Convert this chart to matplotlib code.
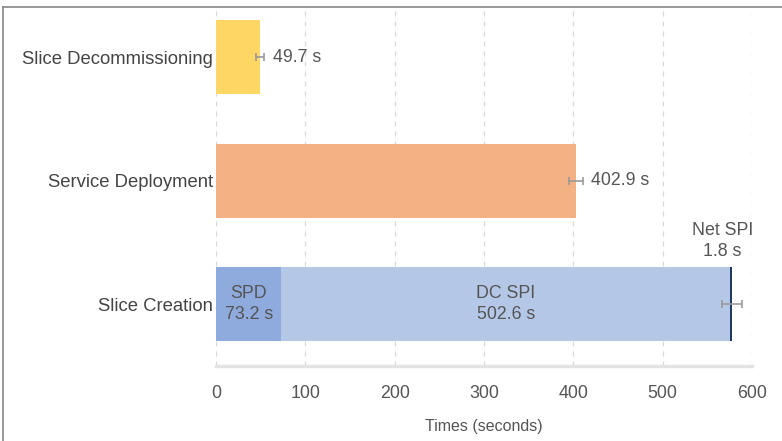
import numpy as np
import matplotlib
matplotlib.use("Agg")
from matplotlib import pyplot as plt
from matplotlib.lines import Line2D

plt.rcParams['font.family'] = ['Liberation Sans', 'DejaVu Sans']

# data
categories = ["Slice Creation", "Service Deployment", "Slice Decommissioning"]
spd = 73.2
dc_spi = 502.6
net_spi = 1.8
deploy = 402.9
decomm = 49.7
err_creation = 11
err_deploy = 8
err_decomm = 4.5
xticks = [0, 100, 200, 300, 400, 500, 600]

txt = "#555555"

fig = plt.figure(figsize=(7.82, 4.41), dpi=100)
ax = fig.add_axes([216/782, 75/441, 536/782, 358/441])

h = 0.6
# Slice Creation (stacked)
ax.barh(0, spd, height=h, color="#8FAADC")
ax.barh(0, dc_spi, left=spd, height=h, color="#B4C7E7")
ax.barh(0, net_spi, left=spd + dc_spi, height=h, color="#1F3864")
total = spd + dc_spi + net_spi
ax.errorbar(total, 0, xerr=err_creation, fmt="none", ecolor="#999999",
            elinewidth=1.2, capsize=3, capthick=1.2)

ax.barh(1, deploy, height=h, color="#F4B183")
ax.errorbar(deploy, 1, xerr=err_deploy, fmt="none", ecolor="#999999",
            elinewidth=1.2, capsize=3, capthick=1.2)

ax.barh(2, decomm, height=h, color="#FDD663")
ax.errorbar(decomm, 2, xerr=err_decomm, fmt="none", ecolor="#999999",
            elinewidth=1.2, capsize=3, capthick=1.2)

# value labels
fs = 12.8
ax.text(spd / 2, 0, "SPD\n%.1f s" % spd, ha="center", va="center",
        fontsize=fs, color=txt, linespacing=1.3)
ax.text(spd + dc_spi / 2, 0, "DC SPI\n%.1f s" % dc_spi, ha="center",
        va="center", fontsize=fs, color=txt, linespacing=1.3)
ax.annotate("Net SPI\n%.1f s" % net_spi, xy=(total, h / 2),
            xytext=(-7, 5), textcoords="offset points", ha="center",
            va="bottom", fontsize=fs, color=txt, linespacing=1.3)
ax.annotate("%.1f s" % deploy, xy=(deploy + err_deploy, 1), xytext=(6, 0),
            textcoords="offset points", ha="left", va="center",
            fontsize=fs, color=txt)
ax.annotate("%.1f s" % decomm, xy=(decomm + err_decomm, 2), xytext=(6, 0),
            textcoords="offset points", ha="left", va="center",
            fontsize=fs, color=txt)

ax.set_xlim(0, 600)
ax.set_ylim(-0.5, 2.4)
ax.set_xticks(xticks)
ax.set_yticks([0, 1, 2])
ax.set_yticklabels(categories)
ax.tick_params(axis="both", length=0, labelsize=fs, colors=txt)
ax.tick_params(axis="x", pad=14)
ax.tick_params(axis="y", pad=2, labelsize=13.3)
for lbl in ax.get_yticklabels():
    lbl.set_color("#444444")
ax.set_xlabel("Times (seconds)", fontsize=11.5, color=txt, labelpad=12)

ax.grid(axis="x", linestyle=(0, (4, 4)), color="#d9d9d9", linewidth=0.9)
ax.set_axisbelow(True)
for s in ["top", "right", "left"]:
    ax.spines[s].set_visible(False)
ax.spines["bottom"].set_color("#e3e3e3")
ax.spines["bottom"].set_linewidth(2.5)

# frame of the screenshot (top and left edges)
fig.add_artist(Line2D([3/782, 1], [1 - 7/441, 1 - 7/441], color="#888888",
                      linewidth=1.2, transform=fig.transFigure))
fig.add_artist(Line2D([3/782, 3/782], [0, 1 - 7/441], color="#888888",
                      linewidth=1.2, transform=fig.transFigure))

fig.savefig("out.png", dpi=100)
